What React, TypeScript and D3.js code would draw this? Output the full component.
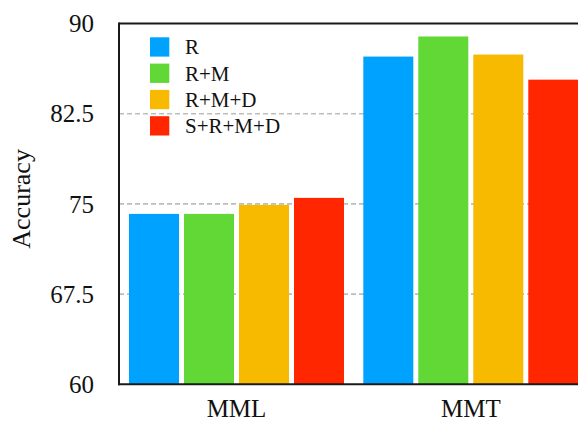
import React from "react";
import * as d3 from "d3";

const categories = ["MML", "MMT"];
const seriesNames = ["R", "R+M", "R+M+D", "S+R+M+D"];
const seriesColors = ["#00A2FF", "#61D836", "#F8BA00", "#FF2600"];
const valuesR = [74.17, 87.25];
const valuesRM = [74.17, 88.92];
const valuesRMD = [74.92, 87.42];
const valuesSRMD = [75.5, 85.33];
const seriesValues = [valuesR, valuesRM, valuesRMD, valuesSRMD];
const yTicks = [60, 67.5, 75, 82.5, 90];
const yTickLabels = ["60", "67.5", "75", "82.5", "90"];
const yLabel = "Accuracy";

const W = 578;
const H = 421;
const left = 119;
const top = 23.5;
const bottom = 384.3;
const groupStep = 234.3;
const right = left + groupStep * (2 - 0.0824 + 2 * 0.0427);

export default function App() {
  const y = d3.scaleLinear().domain([60, 90]).range([bottom, top]);
  const x0 = d3
    .scaleBand<string>()
    .domain(categories)
    .range([left, right])
    .paddingInner(0.0824)
    .paddingOuter(0.0427);
  const x1 = d3
    .scaleBand<string>()
    .domain(seriesNames)
    .range([0, x0.bandwidth()])
    .paddingInner(5 / 55)
    .paddingOuter(0);

  const font = "'Liberation Serif', 'Times New Roman', serif";

  return (
    <svg
      width={W}
      height={H}
      style={{ position: "absolute", left: 0, top: 0, background: "#fff" }}
      fontFamily={font}
    >
      {/* gridlines */}
      {yTicks
        .filter((t) => t !== 60 && t !== 90)
        .map((t) => (
          <line
            key={"g" + t}
            x1={left}
            x2={W}
            y1={y(t)}
            y2={y(t)}
            stroke="#bdbdbd"
            strokeWidth={1.6}
            strokeDasharray="5,3"
          />
        ))}
      {/* bars */}
      {categories.map((c, ci) => (
        <g key={c} transform={`translate(${x0(c)},0)`}>
          {seriesNames.map((s, si) => {
            const v = seriesValues[si][ci];
            return (
              <rect
                key={s}
                x={x1(s)}
                y={y(v)}
                width={x1.bandwidth()}
                height={y(60) - y(v)}
                fill={seriesColors[si]}
              />
            );
          })}
        </g>
      ))}
      {/* frame */}
      <line x1={left} x2={W} y1={top} y2={top} stroke="#1a1a1a" strokeWidth={2} />
      <line x1={left - 1} x2={W} y1={bottom} y2={bottom} stroke="#1a1a1a" strokeWidth={2} />
      <line x1={left} x2={left} y1={top - 1} y2={bottom + 1} stroke="#1a1a1a" strokeWidth={2} />
      {/* y tick labels */}
      {yTicks.map((t, i) => (
        <text
          key={"t" + t}
          x={94}
          y={y(t)}
          dy="0.35em"
          textAnchor="end"
          fontSize={25}
          fill="#111"
        >
          {yTickLabels[i]}
        </text>
      ))}
      {/* x labels */}
      {categories.map((c) => (
        <text
          key={"x" + c}
          x={(x0(c) as number) + x0.bandwidth() / 2}
          y={417}
          textAnchor="middle"
          fontSize={25}
          fill="#111"
        >
          {c}
        </text>
      ))}
      {/* y axis label */}
      <text
        transform={`translate(30,${(top + bottom) / 2 - 5}) rotate(-90)`}
        textAnchor="middle"
        fontSize={26}
        fill="#111"
      >
        {yLabel}
      </text>
      {/* legend */}
      {seriesNames.map((s, i) => (
        <g key={"l" + s} transform={`translate(150,${37.3 + i * 26.3})`}>
          <rect width={19.3} height={19.3} fill={seriesColors[i]} />
          <text x={35} y={9.65 + 7.3} fontSize={21} fill="#111">
            {s}
          </text>
        </g>
      ))}
    </svg>
  );
}
